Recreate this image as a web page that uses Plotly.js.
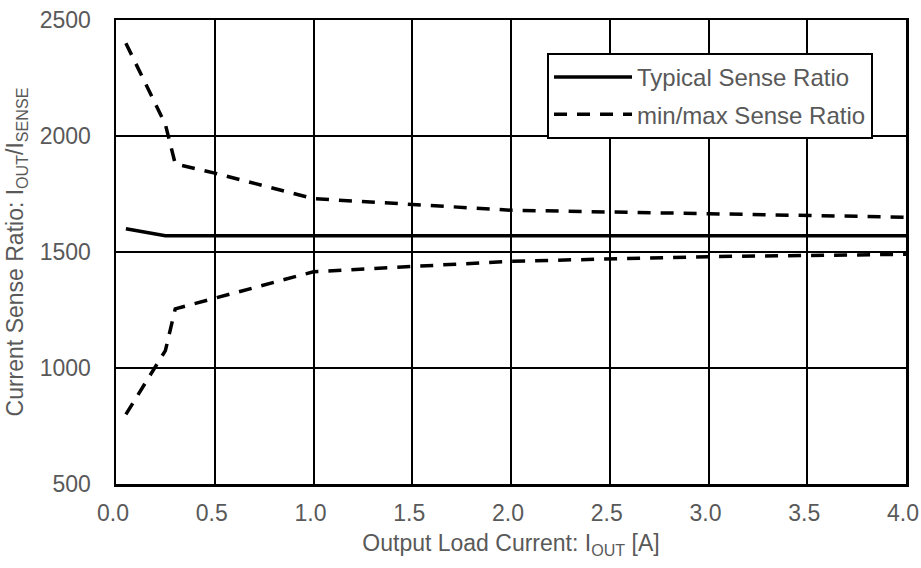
<!DOCTYPE html>
<html>
<head>
<meta charset="utf-8">
<script src="https://cdn.plot.ly/plotly-3.0.1.min.js"></script>
<style>html,body{margin:0;padding:0;background:#fff}#chart{width:921px;height:568px}</style>
</head>
<body>
<div id="chart"></div>
<script>
var typX = [0.05, 0.25, 4.0];
var typY = [1600, 1570, 1570];
var maxX = [0.05, 0.25, 0.3, 0.5, 1.0, 2.0, 3.0, 4.0];
var maxY = [2400, 2050, 1880, 1840, 1730, 1680, 1665, 1650];
var minX = [0.05, 0.25, 0.3, 0.5, 1.0, 2.0, 3.0, 4.0];
var minY = [800, 1075, 1255, 1300, 1415, 1460, 1480, 1490];
var xTicks = [0, 0.5, 1, 1.5, 2, 2.5, 3, 3.5, 4];
var xTickText = ['0.0','0.5','1.0','1.5','2.0','2.5','3.0','3.5','4.0'];
var yTicks = [500, 1000, 1500, 2000, 2500];

var traces = [
  {x: typX, y: typY, mode: 'lines', name: 'Typical Sense Ratio', legendgroup: 'a',
   line: {color: '#000', width: 3.5}},
  {x: maxX, y: maxY, mode: 'lines', name: 'min/max Sense Ratio', legendgroup: 'b',
   line: {color: '#000', width: 3.5, dash: '13px,10px'}},
  {x: minX, y: minY, mode: 'lines', name: 'min', showlegend: false, legendgroup: 'b',
   line: {color: '#000', width: 3.5, dash: '13px,10px'}}
];

var layout = {
  width: 921, height: 568,
  margin: {l: 116, r: 15, t: 20, b: 84},
  paper_bgcolor: '#fff', plot_bgcolor: '#fff',
  font: {family: 'Liberation Sans, Arial, sans-serif', color: '#595959', size: 23},
  showlegend: true,
  legend: {x: 0.5456, y: 0.929, xanchor: 'left', yanchor: 'top',
    bgcolor: '#fff', bordercolor: '#000', borderwidth: 2,
    font: {size: 24, color: '#595959'}, itemwidth: 78, tracegroupgap: 3,
    traceorder: 'grouped'},
  xaxis: {range: [0, 4], tickvals: xTicks, ticktext: xTickText,
    showgrid: true, gridcolor: '#000', gridwidth: 2,
    showline: true, linecolor: '#000', linewidth: 2.5, mirror: true,
    zeroline: false, ticks: '', ticklen: 0,
    ticklabelstandoff: 7, ticklabelshift: -3, ticklabeloverflow: 'allow',
    title: {text: 'Output Load Current: I<sub>OUT</sub> [A]', font: {size: 23, color: '#595959'}, standoff: 10}},
  yaxis: {range: [500, 2500], tickvals: yTicks,
    showgrid: true, gridcolor: '#000', gridwidth: 2,
    showline: true, linecolor: '#000', linewidth: 2.5, mirror: true,
    zeroline: false, ticks: '', ticklabelstandoff: 18, ticklabeloverflow: 'allow',
    title: {text: 'Current Sense Ratio: I<sub>OUT</sub>/I<sub>SENSE</sub>', font: {size: 23, color: '#595959'}, standoff: 10}}
};

Plotly.newPlot('chart', traces, layout, {staticPlot: true, displayModeBar: false});
</script>
</body>
</html>
